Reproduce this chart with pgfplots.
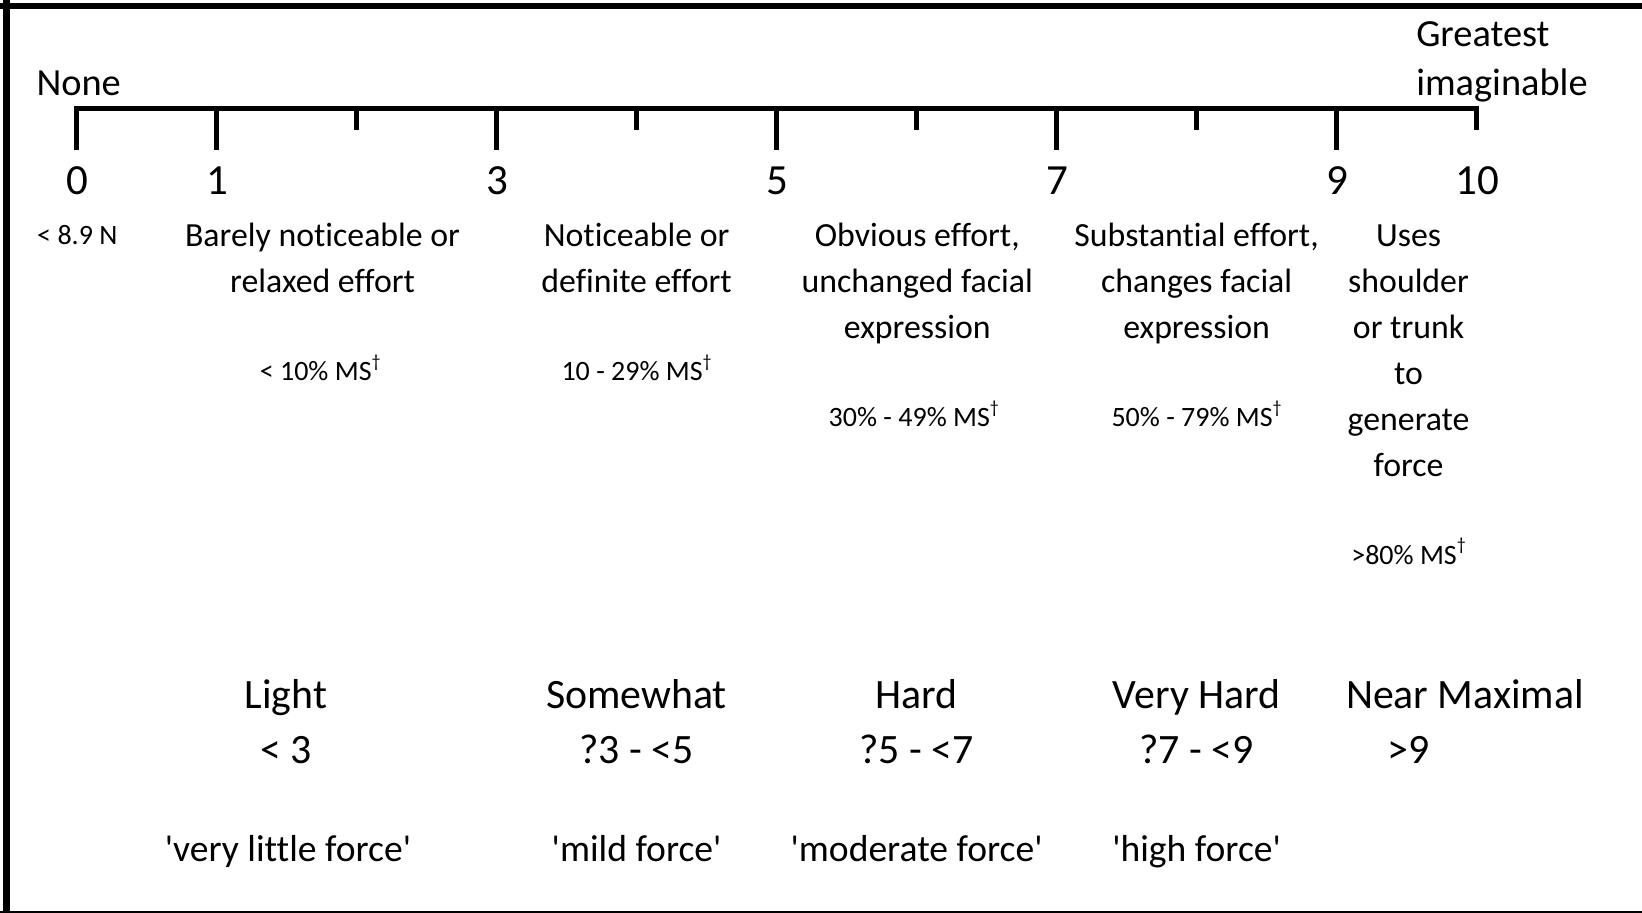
\documentclass[border=0pt]{standalone}
\usepackage{pgfplots}
\pgfplotsset{compat=1.18}
\usepackage{fontspec}
\setmainfont{Carlito}[Ligatures=NoCommon]
\newcommand\fs[1]{\fontsize{#1bp}{#1bp}\selectfont}
\newcommand\q{\textquotesingle}
\tikzset{
  big/.style={anchor=mid,inner sep=0pt,font=\fs{19.2}},
  num/.style={anchor=mid,inner sep=0pt,font=\fs{21.5}},
  desc/.style={anchor=mid,inner sep=0pt,font=\fs{16.9}},
  small/.style={anchor=mid,inner sep=0pt,font=\fs{14}},
  cat/.style={anchor=mid,inner sep=0pt,font=\fs{20.9}},
  frc/.style={anchor=mid,inner sep=0pt,font=\fs{18.8}},
}
\newcommand\dg{\raisebox{1.0ex}{\fs{9}†}}
\begin{document}
\begin{tikzpicture}
\begin{axis}[
  width=821bp, height=456.5bp, scale only axis,
  hide axis, clip=false,
  xmin=-0.54714, xmax=11.18143, ymin=0, ymax=913, y dir=reverse,
]
\coordinate (BBa) at (rel axis cs:0,0);
\coordinate (BBb) at (rel axis cs:1,1);
% frame
\addplot[black, line width=3bp] coordinates {(-0.54714,6) (11.18143,6)};
\addplot[black, line width=3.3bp] coordinates {(-0.4993,0) (-0.4993,913)};
\addplot[black, line width=1bp] coordinates {(-0.54714,911.6) (11.18143,911.6)};
% scale line
\addplot[black, line width=2.5bp, line join=miter] coordinates {(0,150) (0,108.3) (10,108.3) (10,130)};
\pgfplotsinvokeforeach{1,3,5,7,9}{
  \addplot[black, line width=2.5bp] coordinates {(#1,108.3) (#1,150)};
}
\pgfplotsinvokeforeach{2,4,6,8}{
  \addplot[black, line width=2.5bp] coordinates {(#1,108.3) (#1,130)};
}
% end labels
\node[big] at (axis cs:0.015,91) {None};
\node[big,anchor=mid west] at (axis cs:9.566,42) {Greatest};
\node[big,anchor=mid west] at (axis cs:9.566,91) {imaginable};
% numbers
\pgfplotsinvokeforeach{0,1,3,5,7,9,10}{
  \node[num] at (axis cs:#1+0.005,189.5) {#1};
}
\node[small] at (axis cs:0.005,239.5) {< 8.9 N};
% descriptions
\node[desc] at (axis cs:1.757,241.6) {Barely noticeable or};
\node[desc] at (axis cs:1.757,287.7) {relaxed effort};
\node[desc] at (axis cs:4.0,241.6) {Noticeable or};
\node[desc] at (axis cs:4.0,287.7) {definite effort};
\node[desc] at (axis cs:6.005,241.6) {Obvious effort,};
\node[desc] at (axis cs:6.005,287.7) {unchanged facial};
\node[desc] at (axis cs:6.005,333.8) {expression};
\node[desc] at (axis cs:8.0,241.6) {Substantial effort,};
\node[desc] at (axis cs:8.0,287.7) {changes facial};
\node[desc] at (axis cs:8.0,333.8) {expression};
\node[desc] at (axis cs:9.514,241.6) {Uses};
\node[desc] at (axis cs:9.514,287.7) {shoulder};
\node[desc] at (axis cs:9.514,333.8) {or trunk};
\node[desc] at (axis cs:9.514,379.9) {to};
\node[desc] at (axis cs:9.514,426) {generate};
\node[desc] at (axis cs:9.514,472.1) {force};
% percentages
\node[small] at (axis cs:1.74,376.2) {< 10\% MS\dg};
\node[small] at (axis cs:4.0,376.2) {10 - 29\% MS\dg};
\node[small] at (axis cs:5.98,422.2) {30\% - 49\% MS\dg};
\node[small] at (axis cs:8.0,422.2) {50\% - 79\% MS\dg};
\node[small] at (axis cs:9.514,559.4) {>80\% MS\dg};
% categories
\node[cat] at (axis cs:1.495,703.3) {Light};
\node[cat] at (axis cs:1.495,758.8) {< 3};
\node[cat] at (axis cs:4.0,703.3) {Somewhat};
\node[cat] at (axis cs:4.0,758.8) {?3 - <5};
\node[cat] at (axis cs:6.0,703.3) {Hard};
\node[cat] at (axis cs:6.0,758.8) {?5 - <7};
\node[cat] at (axis cs:8.0,703.3) {Very Hard};
\node[cat] at (axis cs:8.0,758.8) {?7 - <9};
\node[cat] at (axis cs:9.917,703.3) {Near Maximal};
\node[cat] at (axis cs:9.514,758.8) {>9};
% force
\node[frc] at (axis cs:1.51,857.2) {\q very little force\q};
\node[frc] at (axis cs:4.0,857.2) {\q mild force\q};
\node[frc] at (axis cs:6.0,857.2) {\q moderate force\q};
\node[frc] at (axis cs:8.0,857.2) {\q high force\q};
\end{axis}
\pgfresetboundingbox
\useasboundingbox (BBa) rectangle (BBb);
\end{tikzpicture}
\end{document}
